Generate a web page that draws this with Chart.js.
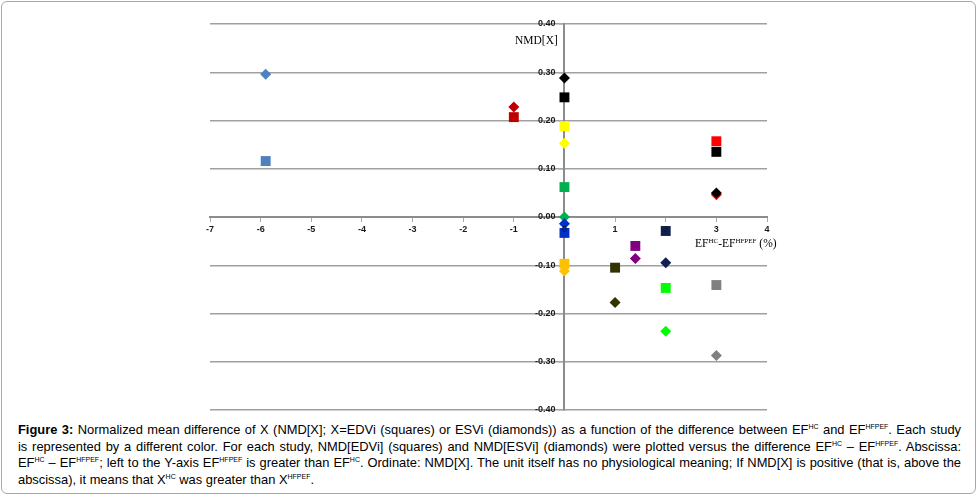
<!DOCTYPE html>
<html>
<head>
<meta charset="utf-8">
<script src="https://cdn.jsdelivr.net/npm/chart.js@4.4.1/dist/chart.umd.min.js"></script>
<style>
  html, body { margin: 0; padding: 0; background: #fff; }
  #frame {
    position: absolute; left: 1px; top: 1px; width: 975px; height: 493px;
    border: 1px solid #a8a8a8; border-radius: 6px; box-sizing: border-box;
  }
  #wrap { position: absolute; left: 0; top: 0; width: 978px; height: 420px; }
  .axt { position: absolute; font-family: "Liberation Serif", serif; font-size: 11.5px; color: #000; white-space: nowrap; }
  .axt sup { font-size: 7px; vertical-align: 4px; line-height: 0; }
  #caption {
    position: absolute; left: 18px; top: 422px; width: 943px;
    font-family: "Liberation Sans", Arial, sans-serif; font-size: 12.9px; line-height: 16.6px;
    color: #000;
  }
  #caption .ln { text-align: justify; text-align-last: justify; white-space: nowrap; }
  #caption .ln.end { text-align-last: left; }
  #caption sup { font-size: 7px; vertical-align: 5px; line-height: 0; }
</style>
</head>
<body>
<div id="frame"></div>
<div id="wrap"><canvas id="nmdChart"></canvas></div>
<div class="axt" style="left:515px; top:34px;">NMD[X]</div>
<div class="axt" style="left:695px; top:237px;">EF<sup>HC</sup>-EF<sup>HFPEF</sup> (%)</div>
<div id="caption">
  <div class="ln"><b>Figure 3:</b> Normalized mean difference of X (NMD[X]; X=EDVi (squares) or ESVi (diamonds)) as a function of the difference between EF<sup>HC</sup> and EF<sup>HFPEF</sup>. Each study</div>
  <div class="ln">is represented by a different color. For each study, NMD[EDVi] (squares) and NMD[ESVi] (diamonds) were plotted versus the difference EF<sup>HC</sup> – EF<sup>HFPEF</sup>. Abscissa:</div>
  <div class="ln">EF<sup>HC</sup> – EF<sup>HFPEF</sup>; left to the Y-axis EF<sup>HFPEF</sup> is greater than EF<sup>HC</sup>. Ordinate: NMD[X]. The unit itself has no physiological meaning; If NMD[X] is positive (that is, above the</div>
  <div class="ln end">abscissa), it means that X<sup>HC</sup> was greater than X<sup>HFPEF</sup>.</div>
</div>

<script>
// one entry per study: EF difference (x), NMD[EDVi] (squares), NMD[ESVi] (diamonds)
const efDiff = [-5.9, -1.0, 0, 0, 0, 0, 0, 1.0, 1.4, 2.0, 2.0, 3.0, 3.0, 3.0];
const nmdEdvi = [0.116, 0.207, 0.248, 0.188, 0.062, -0.033, -0.097, -0.105, -0.060, -0.029, -0.147, -0.141, 0.157, 0.135];
const nmdEsvi = [0.296, 0.228, 0.288, 0.153, 0.000, -0.014, -0.112, -0.177, -0.086, -0.095, -0.237, -0.287, 0.046, 0.050];
const studyColors = ['#4F81BD', '#C00000', '#000000', '#FFFF00', '#00B050', '#0030C8', '#FFC000',
                     '#333300', '#800080', '#0F1F50', '#00FF00', '#808080', '#FF0000', '#000000'];

// axis ranges / ticks
const xMin = -7, xMax = 4, xStep = 1;
const yMin = -0.4, yMax = 0.4, yStep = 0.1;

const toPoints = (ys) => efDiff.map((x, i) => ({ x: x, y: ys[i] }));

const ctx = document.getElementById('nmdChart').getContext('2d');

new Chart(ctx, {
    type: 'scatter',
    data: {
        datasets: [
            {
                label: 'NMD[EDVi]',
                data: toPoints(nmdEdvi),
                pointStyle: 'rect',
                pointRadius: 7,
                pointHoverRadius: 7,
                pointBorderWidth: 0,
                pointBackgroundColor: studyColors,
                pointBorderColor: studyColors
            },
            {
                label: 'NMD[ESVi]',
                data: toPoints(nmdEsvi),
                pointStyle: 'rectRot',
                pointRadius: 5.5,
                pointHoverRadius: 5.5,
                pointBorderWidth: 0,
                pointBackgroundColor: studyColors,
                pointBorderColor: studyColors
            }
        ]
    },
    options: {
        responsive: true,
        maintainAspectRatio: false,
        animation: false,
        events: [],
        layout: { padding: { left: 210, right: 211, top: 24, bottom: 10 } },
        plugins: { legend: { display: false }, tooltip: { enabled: false } },
        scales: {
            x: {
                type: 'linear',
                position: { y: 0 },
                min: xMin, max: xMax,
                afterFit: (s) => { s.height = 0; },
                border: { display: true, color: '#8c8c8c', width: 2 },
                grid: { display: true, drawOnChartArea: false, drawTicks: true, tickLength: 4, tickColor: '#aaa' },
                ticks: {
                    stepSize: xStep, padding: 3, z: 1, color: '#1a1a1a',
                    font: { family: 'Liberation Sans', size: 9, weight: 'bold' },
                    maxRotation: 0, autoSkip: false
                }
            },
            y: {
                type: 'linear',
                position: { x: 0 },
                min: yMin, max: yMax,
                afterFit: (s) => { s.width = 0; },
                border: { display: true, color: '#8c8c8c', width: 2 },
                grid: { display: true, color: '#a0a0a0', lineWidth: 1.5, drawTicks: true, tickLength: 4, tickColor: '#aaa' },
                ticks: {
                    stepSize: yStep, color: '#1a1a1a',
                    font: { family: 'Liberation Sans', size: 9, weight: 'bold' },
                    // labels sit right-aligned on the axis; en spaces keep a small gap
                    callback: (v) => v.toFixed(2) + '\u2002\u2002'
                }
            }
        }
    }
});
</script>
</body>
</html>
